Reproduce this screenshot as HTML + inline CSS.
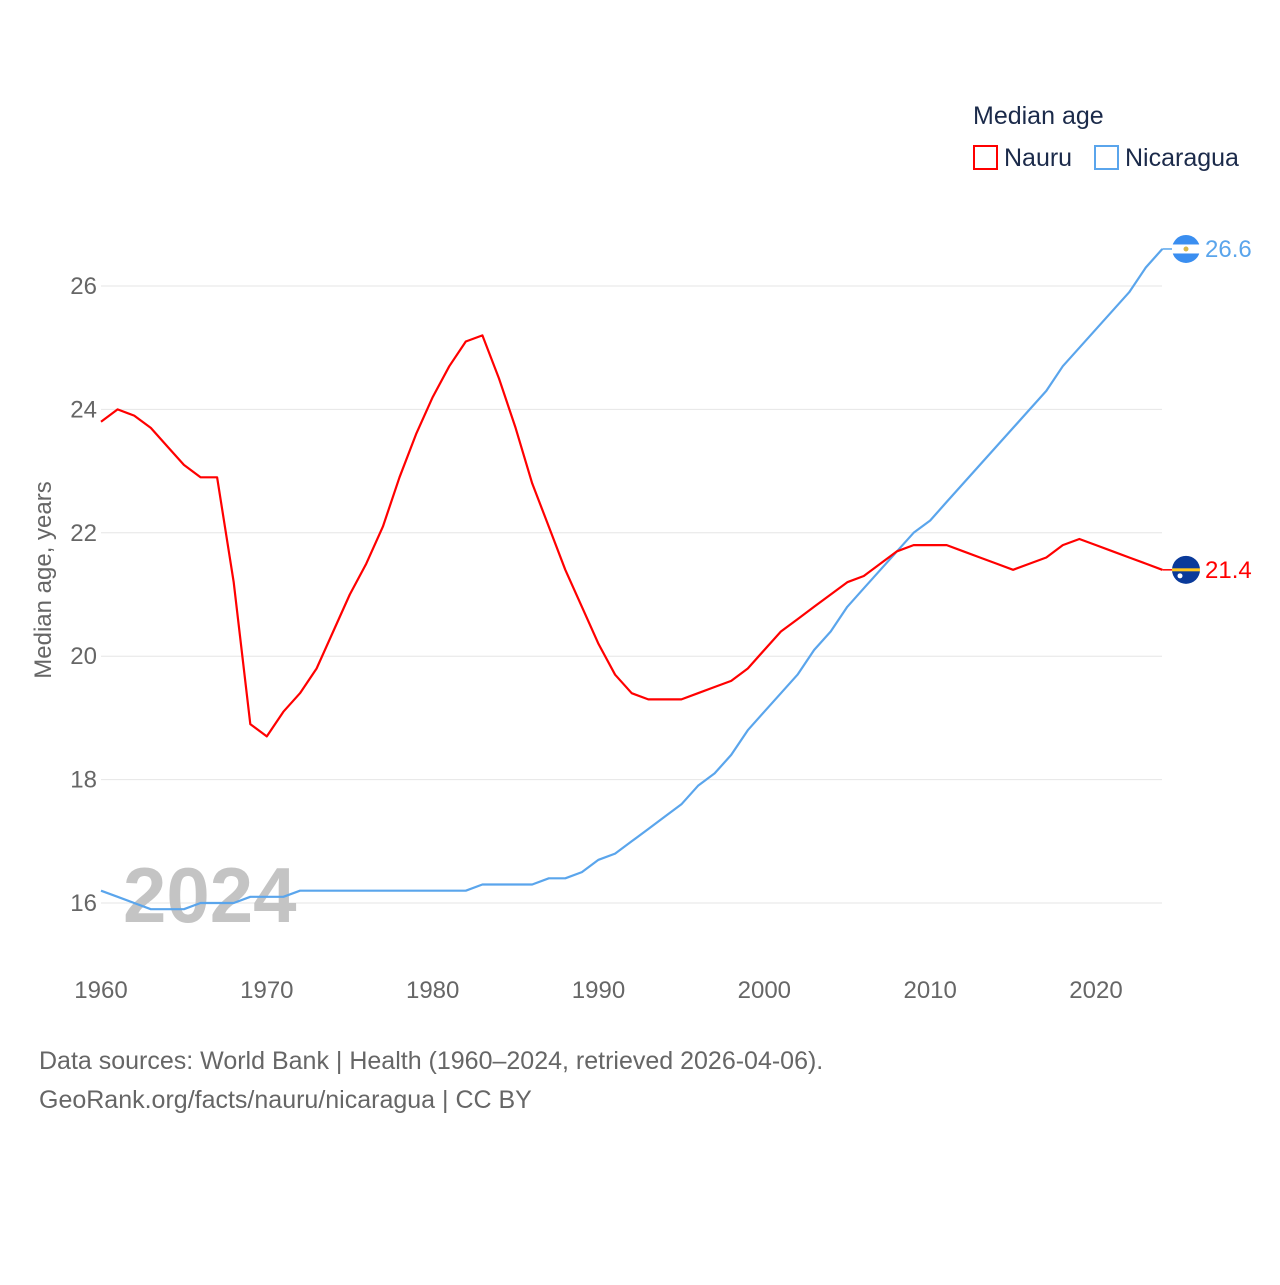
<!DOCTYPE html>
<html><head><meta charset="utf-8"><style>
body{margin:0;background:#fff;font-family:"Liberation Sans",sans-serif;}
svg text{font-family:"Liberation Sans",sans-serif;}
</style></head><body>
<svg id="chart" width="1280" height="1280" xmlns="http://www.w3.org/2000/svg">
<rect width="1280" height="1280" fill="#fff"/>
<g id="grid"></g>
<text x="123" y="922" font-size="78" font-weight="bold" fill="#c4c4c4">2024</text>
<g id="yticks"></g>
<g id="xticks"></g>
<text transform="translate(51,580) rotate(-90)" text-anchor="middle" font-size="24" fill="#666">Median age, years</text>
<g id="series"></g>
<text x="973" y="124" font-size="25" fill="#1b2a4a">Median age</text>
<g><rect x="974" y="146" width="23" height="23" fill="none" stroke="#ff0000" stroke-width="2"/><text x="1004" y="166" font-size="25" fill="#1b2a4a">Nauru</text></g>
<g><rect x="1095" y="146" width="23" height="23" fill="none" stroke="#5aa5ec" stroke-width="2"/><text x="1125" y="166" font-size="25" fill="#1b2a4a">Nicaragua</text></g>
<text x="39" y="1069" font-size="25" fill="#666">Data sources: World Bank | Health (1960–2024, retrieved 2026-04-06).</text>
<text x="39" y="1108" font-size="25" fill="#666">GeoRank.org/facts/nauru/nicaragua | CC BY</text>
</svg>
<script>
const years=[];for(let y=1960;y<=2024;y++)years.push(y);
const nauru=[23.8,24.0,23.9,23.7,23.4,23.1,22.9,22.9,21.2,18.9,18.7,19.1,19.4,19.8,20.4,21.0,21.5,22.1,22.9,23.6,24.2,24.7,25.1,25.2,24.5,23.7,22.8,22.1,21.4,20.8,20.2,19.7,19.4,19.3,19.3,19.3,19.4,19.5,19.6,19.8,20.1,20.4,20.6,20.8,21.0,21.2,21.3,21.5,21.7,21.8,21.8,21.8,21.7,21.6,21.5,21.4,21.5,21.6,21.8,21.9,21.8,21.7,21.6,21.5,21.4];
const nicaragua=[16.2,16.1,16.0,15.9,15.9,15.9,16.0,16.0,16.0,16.1,16.1,16.1,16.2,16.2,16.2,16.2,16.2,16.2,16.2,16.2,16.2,16.2,16.2,16.3,16.3,16.3,16.3,16.4,16.4,16.5,16.7,16.8,17.0,17.2,17.4,17.6,17.9,18.1,18.4,18.8,19.1,19.4,19.7,20.1,20.4,20.8,21.1,21.4,21.7,22.0,22.2,22.5,22.8,23.1,23.4,23.7,24.0,24.3,24.7,25.0,25.3,25.6,25.9,26.3,26.6];
const yTicks=[16,18,20,22,24,26];
const xTicks=[1960,1970,1980,1990,2000,2010,2020];
const NS="http://www.w3.org/2000/svg";
const X=v=>101+(v-1960)*(995/60);
const Y=v=>903-(v-16)*61.7;
function mk(tag,attrs,parent,text){const e=document.createElementNS(NS,tag);for(const k in attrs)e.setAttribute(k,attrs[k]);if(text!==undefined)e.textContent=text;parent.appendChild(e);return e;}
const grid=document.getElementById('grid'),yt=document.getElementById('yticks'),xt=document.getElementById('xticks'),ser=document.getElementById('series');
yTicks.forEach(t=>{
 const l=mk('line',{x1:101,x2:1162,y1:Y(t),y2:Y(t),stroke:'#e6e6e6','stroke-width':1},grid);
 
 
 const tx=mk('text',{x:97,y:Y(t)+8,'text-anchor':'end','font-size':24,fill:'#666'},yt,String(t));
 
 
});
xTicks.forEach(t=>{
 const tx=mk('text',{x:X(t),y:998,'text-anchor':'middle','font-size':24,fill:'#666'},xt,String(t));
 
 
});
function line(vals,color,name){
 const d=vals.map((v,i)=>(i?'L':'M')+X(years[i]).toFixed(1)+','+Y(v).toFixed(1)).join('');
 const p=mk('path',{d:d,fill:'none',stroke:color,'stroke-width':2.2,'stroke-linejoin':'round'},ser);
 
 
 const last=vals[vals.length-1],ly=Y(last);
 mk('line',{x1:X(2024),x2:1175,y1:ly,y2:ly,stroke:color,'stroke-width':1.5},ser);
 const c=mk('circle',{cx:1186,cy:ly,r:14,fill:name==='nauru'?'#0a3a9a':'#3a8ef0'},ser);
 
 
 if(name==='nauru'){mk('rect',{x:1172,y:ly-1.5,width:28,height:3,fill:'#ffc61e'},ser);mk('circle',{cx:1180,cy:ly+6,r:2.5,fill:'#fff'},ser);}
 else{mk('rect',{x:1172,y:ly-4.5,width:28,height:9,fill:'#fff'},ser);mk('circle',{cx:1186,cy:ly,r:2.5,fill:'#d8b84a'},ser);}
 const lb=mk('text',{x:1205,y:ly+8,'font-size':24,fill:color},ser,last.toFixed(1));
 
 
}
line(nicaragua,'#5aa5ec','nicaragua');
line(nauru,'#ff0000','nauru');
</script>
</body></html>
